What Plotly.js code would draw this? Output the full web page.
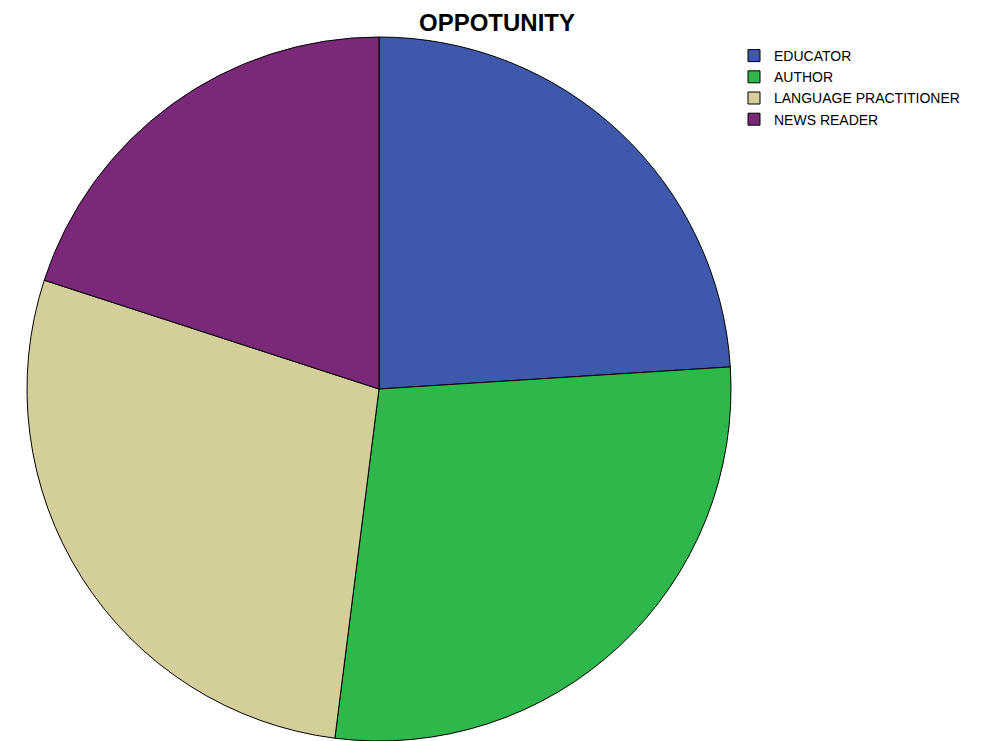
<!DOCTYPE html>
<html>
<head>
<meta charset="utf-8">
<script src="https://cdn.plot.ly/plotly-3.0.1.min.js"></script>
<style>html,body{margin:0;padding:0;background:#fff;}#chart{width:984px;height:741px;}</style>
</head>
<body>
<div id="chart"></div>
<script>
const categories = ["EDUCATOR", "AUTHOR", "LANGUAGE PRACTITIONER", "NEWS READER"];
const counts = [6, 7, 7, 5];
const colors = ["#3E58AC", "#2EB74A", "#D4CF9A", "#7A2878"];

const W = 984, H = 741;
const trace = {
  type: "pie",
  labels: categories,
  values: counts,
  sort: false,
  direction: "clockwise",
  rotation: 0,
  textinfo: "none",
  hoverinfo: "label+value+percent",
  marker: { colors: colors, line: { color: "#000000", width: 1 } },
  domain: { x: [27 / W, 731 / W], y: [0, 704 / H] }
};
const layout = {
  width: W, height: H,
  margin: { l: 0, r: 0, t: 0, b: 0 },
  paper_bgcolor: "#ffffff",
  title: {
    text: "<b>OPPOTUNITY</b>",
    font: { family: "Liberation Sans, Arial, sans-serif", size: 24, color: "#000" },
    x: 497 / W, xanchor: "center",
    y: 1 - 23 / H, yanchor: "middle", yref: "container", xref: "paper"
  },
  showlegend: true,
  legend: {
    x: 734 / W, xanchor: "left",
    y: 1 - 40 / H, yanchor: "top",
    font: { family: "Liberation Sans, Arial, sans-serif", size: 14, color: "#000" },
    bgcolor: "rgba(0,0,0,0)",
    itemwidth: 30,
    tracegroupgap: 0
  }
};
Plotly.newPlot("chart", [trace], layout, { displayModeBar: false, staticPlot: true });
</script>
</body>
</html>
